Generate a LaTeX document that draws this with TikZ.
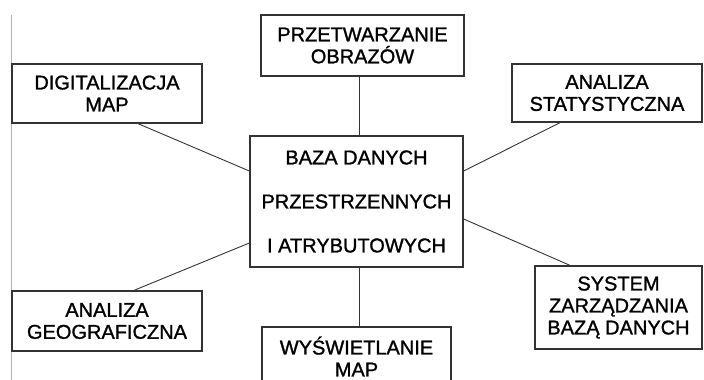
\documentclass[tikz,border=0pt]{standalone}
\usepackage{fontspec}
\setmainfont{Liberation Sans}
\newfontfamily\boxfont[FakeBold=1.2]{Liberation Sans}
\begin{document}
\begin{tikzpicture}[x=1pt,y=-1pt,
  box/.style={draw=black!80, line width=1.3pt, fill=white, align=center,
    inner sep=0pt, font=\boxfont\fontsize{20}{22}\selectfont},
  link/.style={draw=black!80, line width=0.9pt}]
\useasboundingbox (0,0) rectangle (704,380);
\clip (0,0) rectangle (704,380);

% thin rule along the left margin
\coordinate (railtop) at (11,15);
\coordinate (railbot) at (11,380);
\draw[black!30, line width=0.8pt] (railtop) -- (railbot);

% central database and the surrounding modules
\node[box, minimum width=213pt, minimum height=131pt] (base) at (356.5,201.5)
  {BAZA DANYCH\\[22pt]PRZESTRZENNYCH\\[22pt]I ATRYBUTOWYCH};
\node[box, minimum width=203pt, minimum height=61pt] (proc) at (362.5,45.5)
  {PRZETWARZANIE\\OBRAZÓW};
\node[box, minimum width=190pt, minimum height=59pt] (dig) at (107,93.5)
  {DIGITALIZACJA\\MAP};
\node[box, minimum width=190pt, minimum height=58pt] (stat) at (607,93)
  {ANALIZA\\STATYSTYCZNA};
\node[box, minimum width=190pt, minimum height=60pt] (geo) at (107,321)
  {ANALIZA\\GEOGRAFICZNA};
\node[box, minimum width=189pt, minimum height=59pt] (wys) at (356.5,356.5)
  {WYŚWIETLANIE\\MAP};
\node[box, minimum width=167pt, minimum height=83pt] (sys) at (618.5,307.5)
  {SYSTEM\\ZARZĄDZANIA\\BAZĄ DANYCH};

% connectors to the database
\draw[link] ([xshift=-3.5pt]proc.south) -- ([xshift=2.5pt]base.north);
\draw[link] ([xshift=31pt]dig.south) -- ([yshift=30.5pt]base.west);
\draw[link] ([xshift=-47pt]stat.south) -- ([yshift=30.5pt]base.east);
\draw[link] ([xshift=27pt]geo.north) -- ([yshift=-41.5pt]base.west);
\draw[link] ([xshift=2.5pt]wys.north) -- ([xshift=2.5pt]base.south);
\draw[link] ([xshift=-48.5pt]sys.north) -- ([yshift=-17.5pt]base.east);
\end{tikzpicture}
\end{document}
